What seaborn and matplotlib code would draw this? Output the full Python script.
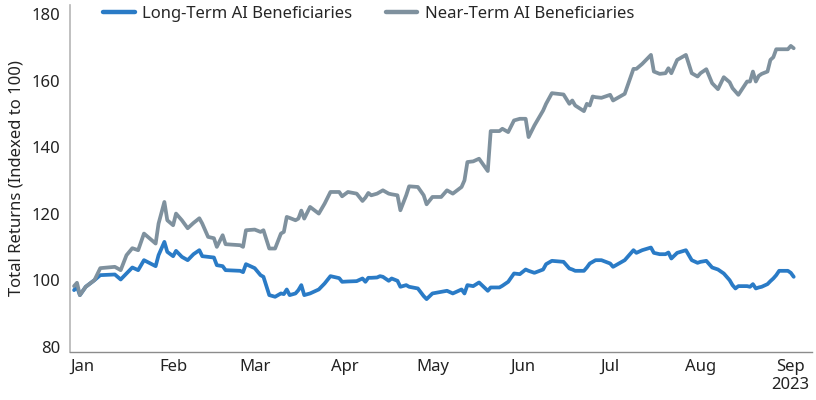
import pandas as pd
import matplotlib
matplotlib.use("Agg")
import matplotlib.pyplot as plt
import seaborn as sns

# Data (Total returns, indexed to 100)
dates = [
    "2022-12-29", "2022-12-30", "2022-12-31", "2023-01-02", "2023-01-05", "2023-01-07",
    "2023-01-12", "2023-01-14", "2023-01-16", "2023-01-18", "2023-01-20", "2023-01-22",
    "2023-01-26", "2023-01-27", "2023-01-29", "2023-01-30", "2023-02-01", "2023-02-02",
    "2023-02-04", "2023-02-06", "2023-02-08", "2023-02-10", "2023-02-11", "2023-02-13",
    "2023-02-15", "2023-02-16", "2023-02-18", "2023-02-19", "2023-02-24", "2023-02-25",
    "2023-02-26", "2023-03-01", "2023-03-03", "2023-03-04", "2023-03-06", "2023-03-08",
    "2023-03-10", "2023-03-11", "2023-03-12", "2023-03-13", "2023-03-15", "2023-03-16",
    "2023-03-17", "2023-03-18", "2023-03-20", "2023-03-23", "2023-03-25", "2023-03-27",
    "2023-03-30", "2023-03-31", "2023-04-02", "2023-04-05", "2023-04-07", "2023-04-08",
    "2023-04-09", "2023-04-10", "2023-04-12", "2023-04-13", "2023-04-14", "2023-04-16",
    "2023-04-17", "2023-04-19", "2023-04-20", "2023-04-22", "2023-04-23", "2023-04-26",
    "2023-04-28", "2023-04-29", "2023-05-01", "2023-05-04", "2023-05-06", "2023-05-08",
    "2023-05-11", "2023-05-12", "2023-05-13", "2023-05-15", "2023-05-17", "2023-05-20",
    "2023-05-21", "2023-05-24", "2023-05-25", "2023-05-27", "2023-05-29", "2023-05-31",
    "2023-06-02", "2023-06-03", "2023-06-05", "2023-06-08", "2023-06-09", "2023-06-11",
    "2023-06-15", "2023-06-17", "2023-06-18", "2023-06-19", "2023-06-22", "2023-06-23",
    "2023-06-24", "2023-06-25", "2023-06-26", "2023-06-28", "2023-07-01", "2023-07-02",
    "2023-07-06", "2023-07-09", "2023-07-10", "2023-07-12", "2023-07-15", "2023-07-16",
    "2023-07-18", "2023-07-20", "2023-07-21", "2023-07-22", "2023-07-24", "2023-07-27",
    "2023-07-29", "2023-07-31", "2023-08-01", "2023-08-03", "2023-08-05", "2023-08-07",
    "2023-08-09", "2023-08-11", "2023-08-12", "2023-08-13", "2023-08-14", "2023-08-17",
    "2023-08-18", "2023-08-19", "2023-08-20", "2023-08-21", "2023-08-22", "2023-08-24",
    "2023-08-25", "2023-08-26", "2023-08-27", "2023-08-28", "2023-08-31", "2023-09-01",
    "2023-09-02",
]

near_term = [
    98.2, 99.2, 95.5, 98.0, 100.0, 103.6,
    104.0, 103.0, 107.5, 109.6, 109.0, 114.0,
    111.0, 117.0, 123.5, 118.0, 116.5, 120.0,
    118.0, 115.6, 117.2, 118.6, 117.0, 113.0,
    112.6, 110.0, 113.5, 110.8, 110.5, 110.0,
    115.0, 115.2, 114.5, 115.0, 109.5, 109.5,
    114.0, 114.5, 119.0, 118.7, 118.0, 118.5,
    120.9, 118.5, 122.0, 120.0, 123.0, 126.5,
    126.5, 125.2, 126.5, 126.0, 123.8, 124.8,
    126.2, 125.5, 126.0, 126.5, 127.0, 126.0,
    125.8, 125.5, 121.0, 125.5, 128.2, 128.0,
    125.5, 122.8, 125.0, 125.0, 127.0, 126.0,
    128.0, 130.0, 135.5, 135.7, 136.5, 132.8,
    144.8, 144.8, 145.5, 144.5, 148.0, 148.5,
    148.5, 143.0, 146.5, 151.0, 153.0, 156.2,
    155.8, 153.0, 154.0, 152.5, 150.8, 153.0,
    152.5, 155.2, 155.0, 154.8, 155.7, 154.0,
    156.0, 163.5, 163.5, 165.0, 167.7, 162.7,
    162.0, 162.2, 163.7, 162.2, 166.2, 167.7,
    162.2, 161.2, 162.2, 163.4, 159.2, 157.4,
    161.0, 159.5, 157.7, 156.7, 155.7, 159.7,
    159.7, 162.7, 159.7, 161.4, 162.0, 162.7,
    166.2, 167.0, 169.4, 169.4, 169.4, 170.4,
    169.7,
]

long_term = [
    97.0, 98.0, 95.5, 98.0, 100.0, 101.5,
    101.7, 100.2, 102.0, 103.8, 103.0, 106.0,
    104.2, 107.5, 111.5, 108.5, 107.2, 108.8,
    107.0, 106.0, 107.8, 109.0, 107.2, 107.0,
    106.8, 104.5, 104.2, 103.0, 102.8, 102.4,
    104.8, 103.6, 101.5, 101.0, 95.5, 95.0,
    96.0, 95.8, 97.2, 95.5, 96.0, 97.0,
    98.5, 95.5, 96.0, 97.2, 99.0, 101.2,
    100.6, 99.5, 99.6, 99.7, 100.5, 99.5,
    100.7, 100.7, 100.8, 101.2, 101.0, 99.8,
    100.5, 99.8, 98.0, 98.5, 98.0, 97.5,
    95.2, 94.3, 96.0, 96.5, 96.8, 96.0,
    97.2, 96.0, 98.5, 98.2, 99.3, 96.8,
    97.8, 97.8, 98.3, 99.5, 102.0, 101.8,
    103.2, 102.8, 102.2, 103.2, 104.8, 105.8,
    105.5, 103.5, 103.2, 102.8, 102.8, 103.8,
    105.0, 105.5, 106.0, 106.0, 105.0, 104.0,
    106.0, 109.0, 108.2, 109.0, 109.8, 108.2,
    107.8, 107.8, 108.3, 106.5, 108.2, 109.0,
    106.0, 105.2, 105.5, 105.8, 103.8, 103.2,
    102.0, 100.0, 98.5, 97.5, 98.2, 98.2,
    98.0, 98.8, 97.5, 97.8, 98.0, 98.8,
    99.7, 100.5, 101.5, 102.8, 102.8, 102.2,
    101.0,
]

series_names = ["Long-Term AI Beneficiaries", "Near-Term AI Beneficiaries"]
series_colors = ["#2a7bc6", "#7f919e"]

month_ticks = ["2023-01-01", "2023-02-01", "2023-03-01", "2023-04-01", "2023-05-01",
               "2023-06-01", "2023-07-01", "2023-08-01", "2023-09-01"]
month_labels = ["Jan", "Feb", "Mar", "Apr", "May", "Jun", "Jul", "Aug", "Sep\n2023"]
y_ticks = [80, 100, 120, 140, 160, 180]

sns.set_theme(style="white")
plt.rcParams["font.family"] = ["Noto Sans", "DejaVu Sans"]

df = pd.DataFrame({
    "date": pd.to_datetime(dates * 2),
    "value": long_term + near_term,
    "series": [series_names[0]] * len(dates) + [series_names[1]] * len(dates),
})

fig, ax = plt.subplots(figsize=(8.16, 4.0), dpi=100)
fig.subplots_adjust(left=0.086, right=0.995, bottom=0.12, top=0.9875)

sns.lineplot(data=df, x="date", y="value", hue="series", hue_order=series_names,
             palette=series_colors, linewidth=2.7, ax=ax)

ax.set_xlim(pd.Timestamp("2022-12-27 16:00"), pd.Timestamp("2023-09-08 06:00"))
ax.set_ylim(78.4, 182.7)
ax.set_yticks(y_ticks)
ax.set_xticks(pd.to_datetime(month_ticks))
ax.set_xticklabels(month_labels)
ax.tick_params(axis="both", length=0, labelsize=12, colors="#222222")
ax.tick_params(axis="y", pad=7)
ax.tick_params(axis="x", pad=5)

ax.set_xlabel("")
ax.set_ylabel("Total Returns (Indexed to 100)", fontsize=12, color="#222222", labelpad=5)

sns.despine(ax=ax)
ax.spines["left"].set_color("#b5b5b5")
ax.spines["bottom"].set_color("#8c8c8c")
ax.spines["left"].set_linewidth(1.2)
ax.spines["bottom"].set_linewidth(1.0)

handles, labels = ax.get_legend_handles_labels()
ax.legend(handles, labels, loc="center left", bbox_to_anchor=(0.108, 0.965),
          bbox_transform=fig.transFigure, ncol=2, frameon=False, fontsize=12,
          handlelength=1.9, handletextpad=0.45, columnspacing=2.0)
for line in ax.get_legend().get_lines():
    line.set_linewidth(3.2)

fig.savefig("out.png", dpi=100)
